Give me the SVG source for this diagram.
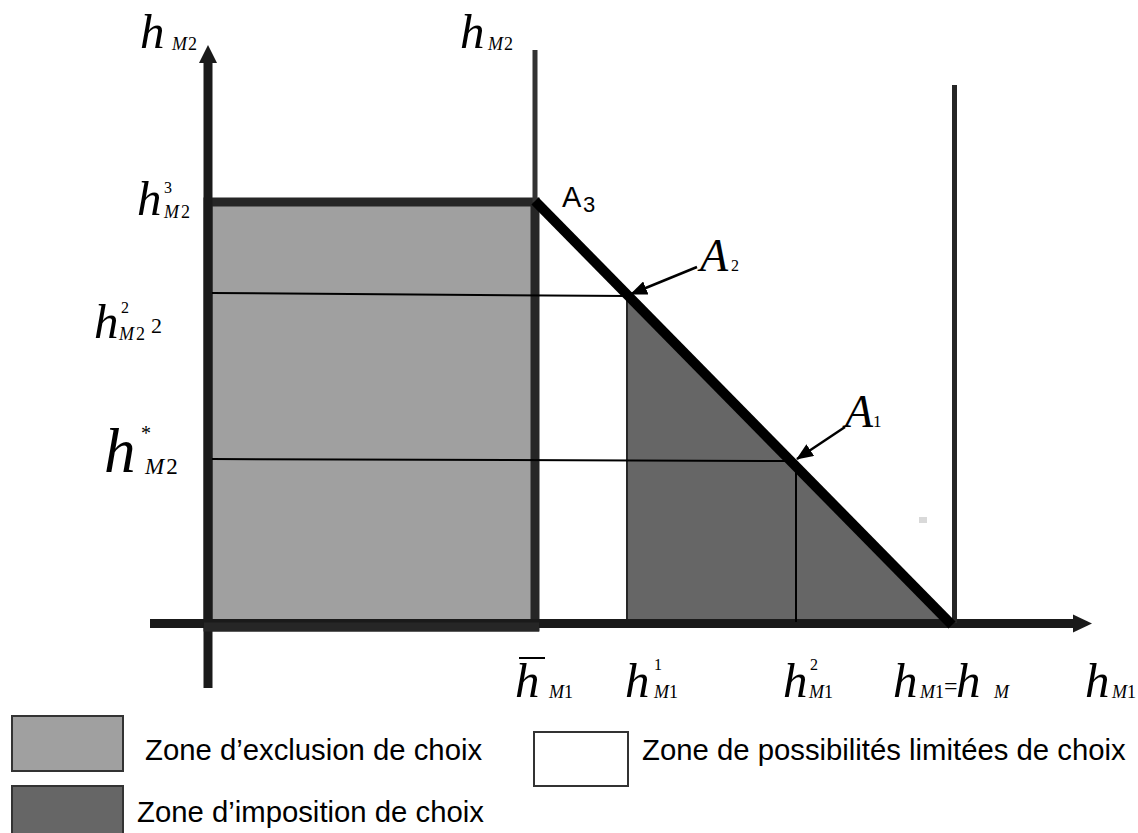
<svg xmlns="http://www.w3.org/2000/svg" width="1138" height="833" viewBox="0 0 1138 833">
<style>
.m{font-family:"Liberation Serif","Times New Roman",serif;font-style:italic;fill:#000}
.h{font-family:"Liberation Serif","Times New Roman",serif;font-style:italic;fill:#000;font-size:49px}
.u{font-family:"Liberation Serif","Times New Roman",serif;font-style:normal;fill:#000}
.s{font-family:"Liberation Sans",Arial,sans-serif;fill:#000}
.thin{stroke:#000;stroke-width:2;fill:none}
.ptr{stroke:#000;stroke-width:2.5;fill:none;marker-end:url(#ah)}
</style>
<defs>
<marker id="ah" markerUnits="userSpaceOnUse" markerWidth="18" markerHeight="14" refX="16" refY="7" orient="auto">
<path d="M0,0 L17,7 L0,14 Z" fill="#000"/>
</marker>
</defs>
<rect width="1138" height="833" fill="#fff"/>

<g id="zone-exclusion">
<rect x="208" y="202" width="327" height="425" fill="#a0a0a0" stroke="#262626" stroke-width="9"/>
</g>
<g id="zone-imposition">
<polygon points="627,295 952,625 627,625" fill="#666666" stroke="#262626" stroke-width="2"/>
</g>

<g id="connectors">
<line x1="208" y1="688" x2="208" y2="60" stroke="#1a1a1a" stroke-width="9"/>
<polygon points="208,45 199,63 217,63" fill="#1a1a1a"/>
<line x1="150" y1="623.5" x2="1075" y2="623.5" stroke="#1a1a1a" stroke-width="9"/>
<polygon points="1092,623.5 1073,614.5 1073,632.5" fill="#1a1a1a"/>
<line x1="204" y1="627" x2="539" y2="627" stroke="#262626" stroke-width="9"/>
<line x1="535" y1="50" x2="535" y2="202" stroke="#333" stroke-width="5"/>
<line x1="954.5" y1="85" x2="954.5" y2="623" stroke="#262626" stroke-width="5"/>
<line class="thin" x1="212" y1="293" x2="628" y2="296"/>
<line class="thin" x1="212" y1="459" x2="796" y2="461"/>
<line class="thin" x1="796" y1="461" x2="796" y2="622"/>
<line x1="535" y1="201" x2="952" y2="625" stroke="#000" stroke-width="10"/>
<line class="ptr" x1="697" y1="267" x2="631" y2="294"/>
<line class="ptr" x1="845" y1="427" x2="797" y2="459"/>
<rect x="919" y="517" width="8" height="6" fill="#d9d9d9"/>
</g>

<g id="label-hM2-axis">
<text class="h" x="140" y="48">h</text>
<text class="m" x="172" y="50" font-size="18">M<tspan class="u" dx="1">2</tspan></text>
</g>
<g id="label-hM2-top">
<text class="h" x="460" y="48">h</text>
<text class="m" x="488" y="50" font-size="18">M<tspan class="u" dx="1">2</tspan></text>
</g>
<g id="label-h3M2">
<text class="h" x="137" y="215">h</text>
<text class="u" x="164" y="193" font-size="16">3</text>
<text class="m" x="164" y="218" font-size="18">M<tspan class="u" dx="2">2</tspan></text>
</g>
<g id="label-h2M2">
<text class="h" x="94" y="338">h</text>
<text class="u" x="121" y="313" font-size="16">2</text>
<text class="m" x="119" y="340" font-size="18">M<tspan class="u" dx="2">2</tspan></text>
<text class="u" x="151" y="333" font-size="22">2</text>
</g>
<g id="label-hstarM2">
<text class="m" x="104" y="472" font-size="63">h</text>
<text class="u" x="141" y="440" font-size="20">*</text>
<text class="m" x="145" y="474" font-size="23">M<tspan class="u" dx="2">2</tspan></text>
</g>
<g id="label-hbarM1">
<text class="h" x="515" y="697">h</text>
<line x1="519" y1="658" x2="545" y2="658" stroke="#000" stroke-width="2"/>
<text class="m" x="549" y="698" font-size="18">M<tspan class="u">1</tspan></text>
</g>
<g id="label-h1M1">
<text class="h" x="625" y="697">h</text>
<text class="u" x="654" y="670" font-size="16">1</text>
<text class="m" x="654" y="698" font-size="18">M<tspan class="u">1</tspan></text>
</g>
<g id="label-h2M1">
<text class="h" x="783" y="697">h</text>
<text class="u" x="810" y="670" font-size="16">2</text>
<text class="m" x="809" y="698" font-size="18">M<tspan class="u">1</tspan></text>
</g>
<g id="label-hM1-eq-hM">
<text class="h" x="893" y="697">h</text>
<text class="m" x="920" y="698" font-size="18">M<tspan class="u">1</tspan></text>
<text class="u" x="944" y="694" font-size="24">=</text>
<text class="h" x="956" y="697">h</text>
<text class="m" x="994" y="698" font-size="18">M</text>
</g>
<g id="label-hM1-axis">
<text class="h" x="1085" y="697">h</text>
<text class="m" x="1112" y="698" font-size="18">M<tspan class="u">1</tspan></text>
</g>

<g id="label-A3">
<text class="s" x="562" y="207" font-size="29">A</text>
<text class="s" x="583" y="212" font-size="22">3</text>
</g>
<g id="label-A2">
<text class="m" x="700" y="271" font-size="46">A</text>
<text class="u" x="731" y="271" font-size="16">2</text>
</g>
<g id="label-A1">
<text class="m" x="845" y="427" font-size="46">A</text>
<text class="u" x="873" y="427" font-size="17">1</text>
</g>

<g id="legend-exclusion">
<rect x="12" y="716" width="111" height="55" fill="#a0a0a0" stroke="#333" stroke-width="2"/>
<text class="s" x="145" y="760" font-size="29.3">Zone d’exclusion de choix</text>
</g>
<g id="legend-imposition">
<rect x="12" y="786" width="111" height="60" fill="#666666" stroke="#333" stroke-width="2"/>
<text class="s" x="137" y="822" font-size="29.3">Zone d’imposition de choix</text>
</g>
<g id="legend-limited">
<rect x="534" y="732" width="94" height="54" fill="#fff" stroke="#333" stroke-width="2"/>
<text class="s" x="642" y="760" font-size="29.3">Zone de possibilités limitées de choix</text>
</g>
</svg>
